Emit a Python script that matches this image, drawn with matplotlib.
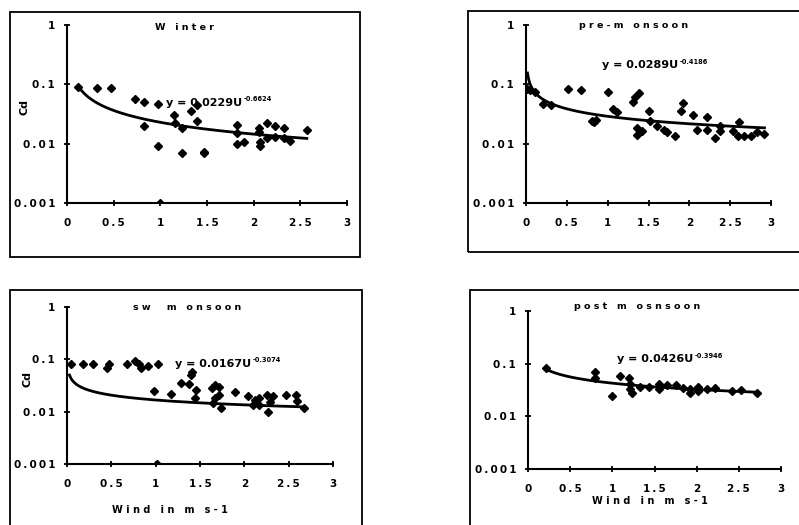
import numpy as np
import matplotlib.pyplot as plt
from matplotlib.patches import Rectangle

# ---- data ----
titles = ['W inter', 'pre-m onsoon', 'sw  m onsoon', 'post m osnsoon']
coef = [0.0229, 0.0289, 0.0167, 0.0426]
expo = [-0.6624, -0.4186, -0.3074, -0.3946]
eq_text = ['y = 0.0229U', 'y = 0.0289U', 'y = 0.0167U', 'y = 0.0426U']
eq_sup = ['-0.6624', '-0.4186', '-0.3074', '-0.3946']
fit_range = [(0.12, 2.57), (0.018, 2.92), (0.028, 2.67), (0.2, 2.71)]

winter_u = [0.12, 0.325, 0.47, 0.73, 0.82, 0.82, 0.98, 0.98, 1.0, 1.15, 1.16, 1.23, 1.23,
            1.33, 1.39, 1.39, 1.47, 1.47, 1.82, 1.82, 1.82, 1.9, 2.06, 2.06, 2.07, 2.07,
            2.14, 2.14, 2.23, 2.23, 2.32, 2.32, 2.39, 2.57]
winter_cd = [0.089, 0.088, 0.088, 0.057, 0.051, 0.0197, 0.047, 0.0091, 0.001, 0.030, 0.0225,
             0.0185, 0.0070, 0.035, 0.044, 0.024, 0.0073, 0.0070, 0.021, 0.015, 0.010, 0.0108,
             0.0185, 0.016, 0.0108, 0.0091, 0.0225, 0.0124, 0.0197, 0.0132, 0.0185, 0.0124,
             0.0113, 0.0173]

pre_u = [0.016, 0.05, 0.11, 0.21, 0.31, 0.52, 0.67, 0.81, 0.83, 0.86, 1.0, 1.07, 1.11, 1.31,
         1.34, 1.38, 1.36, 1.36, 1.42, 1.5, 1.52, 1.6, 1.69, 1.73, 1.83, 1.92, 1.9, 2.05, 2.09,
         2.22, 2.22, 2.32, 2.37, 2.38, 2.54, 2.61, 2.59, 2.67, 2.75, 2.83, 2.92]
pre_cd = [0.085, 0.08, 0.075, 0.047, 0.044, 0.083, 0.08, 0.0245, 0.023, 0.025, 0.075, 0.039,
          0.034, 0.05, 0.06, 0.072, 0.0183, 0.014, 0.0165, 0.036, 0.0245, 0.020, 0.017, 0.016,
          0.0135, 0.049, 0.035, 0.031, 0.017, 0.028, 0.017, 0.0127, 0.020, 0.0165, 0.0165,
          0.023, 0.0135, 0.0135, 0.0135, 0.0155, 0.0145]

sw_u = [0.04, 0.18, 0.29, 0.47, 0.45, 0.675, 0.77, 0.81, 0.84, 0.91, 1.03, 0.98, 1.02, 1.17,
        1.29, 1.38, 1.4, 1.41, 1.46, 1.44, 1.63, 1.67, 1.71, 1.67, 1.71, 1.74, 1.65, 1.89,
        2.04, 2.12, 2.17, 2.25, 2.27, 2.32, 2.17, 2.1, 2.47, 2.58, 2.59, 2.67, 2.29]
sw_cd = [0.083, 0.083, 0.083, 0.083, 0.067, 0.083, 0.093, 0.08, 0.067, 0.074, 0.083, 0.0244,
         0.001, 0.022, 0.036, 0.0335, 0.050, 0.058, 0.026, 0.018, 0.028, 0.033, 0.030, 0.018,
         0.021, 0.0119, 0.0147, 0.0233, 0.0203, 0.017, 0.0183, 0.0211, 0.0099, 0.0196, 0.0137,
         0.0137, 0.0211, 0.0211, 0.016, 0.0119, 0.015]

post_u = [0.21, 0.8, 0.79, 1.0, 1.09, 1.2, 1.21, 1.21, 1.23, 1.33, 1.43, 1.55, 1.55, 1.65,
          1.75, 1.84, 1.92, 1.92, 2.02, 2.02, 2.12, 2.22, 2.42, 2.52, 2.71]
post_cd = [0.083, 0.071, 0.0525, 0.0245, 0.059, 0.053, 0.041, 0.033, 0.0283, 0.0353, 0.0353,
           0.041, 0.033, 0.039, 0.039, 0.0338, 0.033, 0.0283, 0.0353, 0.0305, 0.033, 0.0338,
           0.0305, 0.031, 0.0276]

series = [(winter_u, winter_cd), (pre_u, pre_cd), (sw_u, sw_cd), (post_u, post_cd)]
xticks = [0, 0.5, 1, 1.5, 2, 2.5, 3]
xticklabels = ['0', '0.5', '1', '1.5', '2', '2.5', '3']
yticks = [0.001, 0.01, 0.1, 1]
yticklabels = ['0.001', '0.01', '0.1', '1']

# ---- layout ----
W, H = 799, 525
fig = plt.figure(figsize=(W / 100, H / 100), dpi=100)
plt.rcParams['font.family'] = ['DejaVu Sans']


def spaced(s, gap='\u2009'):
    return gap.join(s)


# frames around each chart (pixels, top-left origin)
boxes = [(10, 12, 360, 257), (468, 11, 815, 252), (10, 290, 362, 540), (470, 290, 815, 540)]
for x0, y0, x1, y1 in boxes:
    fig.patches.append(Rectangle((x0 / W, 1 - y1 / H), (x1 - x0) / W, (y1 - y0) / H,
                                 transform=fig.transFigure, fill=False, ec='black', lw=1.3))

axes_px = [(67, 347, 25, 203), (526, 771, 25, 203), (67, 333, 307, 464), (528, 781, 311, 469)]
title_pos = [(0.42, 0.985), (0.44, 1.0), (0.45, 1.0), (0.43, 1.03)]
eq_pos = [(0.354, 0.562), (0.31, 0.775), (0.406, 0.637), (0.352, 0.696)]

for i, (l, r, t, b) in enumerate(axes_px):
    ax = fig.add_axes([l / W, 1 - b / H, (r - l) / W, (b - t) / H])
    u, cd = series[i]
    ax.plot(u, cd, 'D', color='black', markersize=4.5, zorder=3)
    uu = np.linspace(fit_range[i][0], fit_range[i][1], 200)
    ax.plot(uu, coef[i] * uu ** expo[i], color='black', lw=2, zorder=2)

    ax.set_yscale('log')
    ax.set_xlim(0, 3)
    ax.set_ylim(0.001, 1)
    ax.set_xticks(xticks)
    ax.set_xticklabels([spaced(s) for s in xticklabels])
    ax.set_yticks(yticks)
    ax.set_yticklabels([spaced(s) for s in yticklabels])
    ax.minorticks_off()
    for s in ['top', 'right']:
        ax.spines[s].set_visible(False)
    for s in ['left', 'bottom']:
        ax.spines[s].set_linewidth(1.5)
    ax.tick_params(direction='inout', length=5, width=1.3, labelsize=7.5, pad=6)
    ax.tick_params(axis='x', pad=8)
    for lab in ax.get_xticklabels() + ax.get_yticklabels():
        lab.set_fontweight('bold')
    ax.patch.set_visible(False)

    ax.text(title_pos[i][0], title_pos[i][1], spaced(titles[i], ' '), transform=ax.transAxes,
            ha='center', va='center', fontsize=6.8, fontweight='bold')

    main = ax.text(eq_pos[i][0], eq_pos[i][1], eq_text[i], transform=ax.transAxes,
                   ha='left', va='center', fontsize=8, fontweight='bold')
    ax.annotate(eq_sup[i], xy=(1.0, 0.55), xycoords=main, xytext=(1, 0),
                textcoords='offset points', ha='left', va='bottom', fontsize=4.8,
                fontweight='bold')

    if i in (0, 2):
        ax.text(-0.15, 0.54, 'Cd', transform=ax.transAxes, rotation=90, ha='center',
                va='center', fontsize=8, fontweight='bold')
    if i == 2:
        ax.text(0.387, -0.29, spaced('Wind in m s-1', ' '), transform=ax.transAxes,
                ha='center', va='center', fontsize=7, fontweight='bold')
    if i == 3:
        ax.text(0.48, -0.2, spaced('Wind in m s-1', ' '), transform=ax.transAxes,
                ha='center', va='center', fontsize=7, fontweight='bold')

fig.savefig('out.png', dpi=100)
